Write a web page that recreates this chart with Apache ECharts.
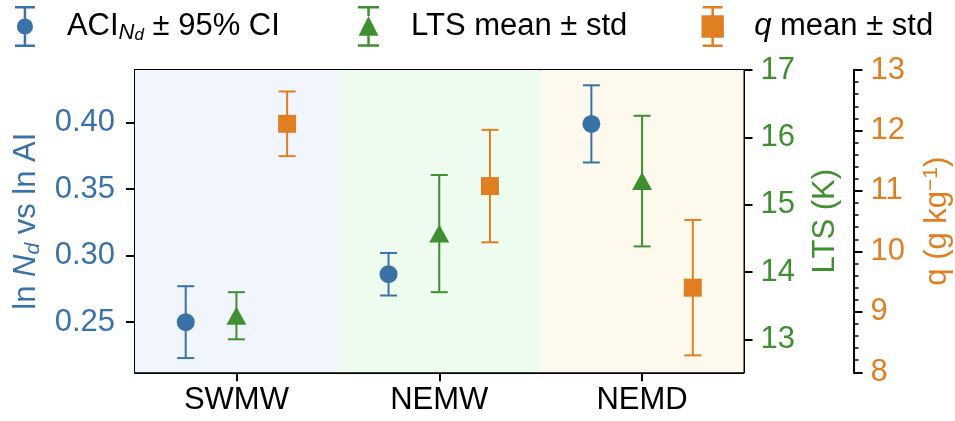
<!DOCTYPE html>
<html>
<head>
<meta charset="utf-8">
<script src="https://cdn.jsdelivr.net/npm/echarts@6/dist/echarts.min.js"></script>
<style>
  html, body { margin: 0; padding: 0; background: #fff; }
  #chart { width: 955px; height: 421px; }
</style>
</head>
<body>
<div id="chart"></div>
<script>
// regions and values
var categories = ['SWMW', 'NEMW', 'NEMD'];
var aciValues = [0.250, 0.286, 0.399];
var aciCI = [0.027, 0.016, 0.029];
var ltsMean = [13.35, 14.57, 15.35];
var ltsStd = [0.35, 0.87, 0.97];
var qMean = [12.11, 11.08, 9.40];
var qStd = [0.535, 0.93, 1.12];

// tick labels
var aciTicks = [0.25, 0.30, 0.35, 0.40];
var ltsTicks = [13, 14, 15, 16, 17];
var qTicks = [8, 9, 10, 11, 12, 13];

var BLUE = '#3a72a8', GREEN = '#3f8f32', ORANGE = '#e07f22';
var bandColors = ['#f0f5fe', '#edfcee', '#fdf9ed'];
var FONT = 'Liberation Sans, Arial, sans-serif';
var FS = 31;
var OFF = 0.25; // side-by-side shift of the three markers

function minorTicks(lo, hi, step) {
  var out = [];
  for (var v = lo; v <= hi + step / 2; v += step) out.push(Math.round(v * 1000) / 1000);
  return out;
}

function rectPath(x0, y0, x1, y1) {
  return 'M' + x0 + ' ' + y0 + 'L' + x1 + ' ' + y0 + 'L' + x1 + ' ' + y1 + 'L' + x0 + ' ' + y1 + 'Z';
}
function circlePath(cx, cy, r) {
  return 'M' + (cx - r) + ' ' + cy + 'A' + r + ' ' + r + ' 0 1 0 ' + (cx + r) + ' ' + cy +
         'A' + r + ' ' + r + ' 0 1 0 ' + (cx - r) + ' ' + cy + 'Z';
}
// legend handles: error bar with the marker on it
var iconAci = 'path://' + rectPath(0, 0, 16, 2) + rectPath(7, 2, 9, 10) + circlePath(8, 16.5, 6.5) +
              rectPath(7, 23, 9, 31) + rectPath(0, 31, 16, 33);
var iconLts = 'path://' + rectPath(0, 0, 17, 2) + rectPath(7.5, 2, 9.5, 8) + 'M8.5 8L16.5 24L0.5 24Z' +
              rectPath(7.5, 24, 9.5, 31) + rectPath(0, 31, 17, 33);
var iconQ = 'path://' + rectPath(1, 0, 17, 2) + rectPath(8, 2, 10, 7.5) + rectPath(0, 7.5, 18, 25.5) +
            rectPath(8, 25.5, 10, 31) + rectPath(1, 31, 17, 33);

function errData(vals, errs, shift) {
  return vals.map(function(v, i) { return [i + shift, v, errs[i]]; });
}
function ptData(vals, shift) {
  return vals.map(function(v, i) { return [i + shift, v]; });
}

function renderErr(params, api) {
  var x = api.value(0), v = api.value(1), e = api.value(2);
  var top = api.coord([x, v + e]);
  var bot = api.coord([x, v - e]);
  var hw = 8.5;
  var st = { stroke: api.visual('color'), lineWidth: 2 };
  return {
    type: 'group',
    children: [
      { type: 'line', shape: { x1: top[0], y1: top[1], x2: bot[0], y2: bot[1] }, style: st },
      { type: 'line', shape: { x1: top[0] - hw, y1: top[1], x2: top[0] + hw, y2: top[1] }, style: st },
      { type: 'line', shape: { x1: bot[0] - hw, y1: bot[1], x2: bot[0] + hw, y2: bot[1] }, style: st }
    ]
  };
}

function majorAxis(o) {
  return {
    type: 'value', position: o.pos, offset: o.offset, min: o.min, max: o.max,
    name: o.name, nameLocation: 'middle', nameRotate: 90, nameGap: o.gap,
    nameTextStyle: { color: o.color, fontSize: FS, fontFamily: FONT, rich: o.rich },
    axisLine: { show: true, onZero: false, lineStyle: { color: '#000', width: 2 } },
    axisTick: { show: true, length: 9, customValues: o.ticks, lineStyle: { color: '#000', width: 2 } },
    axisLabel: { customValues: o.ticks, formatter: o.fmt, color: o.color, fontSize: FS,
                 fontFamily: FONT, margin: o.margin },
    splitLine: { show: false }
  };
}
function minorAxis(o) {
  return {
    type: 'value', position: o.pos, offset: o.offset, min: o.min, max: o.max,
    axisLine: { show: false },
    axisTick: { show: true, length: 5, customValues: o.ticks, lineStyle: { color: '#000', width: 1.5 } },
    axisLabel: { show: false },
    splitLine: { show: false }
  };
}

var aciMin = 0.2123, aciMax = 0.4395;
var ltsMin = 12.51, ltsMax = 17.0;
var qMin = 8, qMax = 13;

var textRich = {
  g1: { width: 27 },
  g2: { width: 25 },
  n: { fontSize: FS, lineHeight: 34, fontFamily: FONT, color: '#000' },
  i: { fontSize: FS, lineHeight: 34, fontFamily: FONT, fontStyle: 'italic', color: '#000' },
  s: { fontSize: 22, lineHeight: 22, fontFamily: FONT, fontStyle: 'italic', verticalAlign: 'bottom', color: '#000' },
  s2: { fontSize: 17, lineHeight: 11, fontFamily: FONT, fontStyle: 'italic', verticalAlign: 'bottom', color: '#000' }
};
var legendNames = {
  'ACI': '{g1| }{n|ACI}{s|N}{s2|d}{n| ± 95% CI}',
  'LTS': '{g1| }{n|LTS mean ± std}',
  'q': '{g2| }{i|q}{n| mean ± std}'
};
// the handle is drawn at about 0.8 of the item box, so the box is enlarged to match
function legendFor(name, icon, left, w) {
  var bw = Math.round(w / 0.8);
  return {
    data: [{ name: name, icon: icon }],
    left: left - (bw - w) / 2, top: 6, padding: 0,
    itemWidth: bw, itemHeight: 41,
    selectedMode: false,
    formatter: function(n) { return legendNames[n]; },
    textStyle: { fontSize: FS, fontFamily: FONT, color: '#000', rich: textRich }
  };
}

var chart = echarts.init(document.getElementById('chart'), null, { renderer: 'canvas' });

chart.setOption({
  animation: false,
  backgroundColor: '#fff',
  grid: { left: 135, right: 211.5, top: 70, bottom: 48.7, outerBoundsMode: 'none' },
  legend: [
    legendFor('ACI', iconAci, 17, 16),
    legendFor('LTS', iconLts, 360, 17),
    legendFor('q', iconQ, 704, 18)
  ],
  xAxis: [{
    type: 'value', min: -0.5, max: 2.5,
    axisLine: { show: true, onZero: false, lineStyle: { color: '#000', width: 2 } },
    axisTick: { show: true, length: 9, customValues: [0, 1, 2], lineStyle: { color: '#000', width: 2 } },
    axisLabel: { customValues: [0, 1, 2], formatter: function(v) { return categories[Math.round(v)]; },
                 color: '#000', fontSize: FS, fontFamily: FONT, margin: 13 },
    splitLine: { show: false }
  }, {
    type: 'value', position: 'top', min: -0.5, max: 2.5,
    axisLine: { show: true, onZero: false, lineStyle: { color: '#000', width: 2 } },
    axisTick: { show: false }, axisLabel: { show: false }, splitLine: { show: false }
  }],
  yAxis: [
    majorAxis({ pos: 'left', offset: 0, min: aciMin, max: aciMax, ticks: aciTicks, color: BLUE, margin: 20,
      fmt: function(v) { return v.toFixed(2); }, gap: 90,
      name: '{t|ln }{i|N}{s|d}{t| vs ln AI}',
      rich: {
        t: { fontSize: FS, lineHeight: 34, color: BLUE, fontFamily: FONT },
        i: { fontSize: FS, lineHeight: 34, color: BLUE, fontFamily: FONT, fontStyle: 'italic' },
        s: { fontSize: 21, lineHeight: 19, color: BLUE, fontFamily: FONT, fontStyle: 'italic', verticalAlign: 'bottom' }
      } }),
    minorAxis({ pos: 'left', offset: 0, min: aciMin, max: aciMax, ticks: minorTicks(0.22, 0.43, 0.01) }),
    majorAxis({ pos: 'right', offset: 0, min: ltsMin, max: ltsMax, ticks: ltsTicks, color: GREEN, margin: 17,
      fmt: function(v) { return String(v); }, gap: 66,
      name: 'LTS (K)', rich: {} }),
    minorAxis({ pos: 'right', offset: 0, min: ltsMin, max: ltsMax, ticks: minorTicks(12.6, 17.0, 0.2) }),
    majorAxis({ pos: 'right', offset: 110, min: qMin, max: qMax, ticks: qTicks, color: ORANGE, margin: 17,
      fmt: function(v) { return String(v); }, gap: 67,
      name: '{t|q (g kg}{p|−1}{t|)}',
      rich: {
        t: { fontSize: FS, lineHeight: 34, color: ORANGE, fontFamily: FONT },
        p: { fontSize: 21, lineHeight: 20, color: ORANGE, fontFamily: FONT, verticalAlign: 'top' }
      } }),
    minorAxis({ pos: 'right', offset: 110, min: qMin, max: qMax, ticks: minorTicks(8, 13, 0.2) })
  ],
  series: [
    {
      name: 'bands', type: 'scatter', xAxisIndex: 0, yAxisIndex: 0, z: 0, data: [],
      silent: true,
      markArea: {
        silent: true,
        data: categories.map(function(c, i) {
          return [{ xAxis: i - 0.5, itemStyle: { color: bandColors[i] } }, { xAxis: i + 0.5 }];
        })
      }
    },
    { name: 'ACI err', type: 'custom', xAxisIndex: 0, yAxisIndex: 0, z: 3, itemStyle: { color: BLUE },
      renderItem: renderErr, encode: { x: 0, y: 1 }, data: errData(aciValues, aciCI, -OFF) },
    { name: 'LTS err', type: 'custom', xAxisIndex: 0, yAxisIndex: 2, z: 3, itemStyle: { color: GREEN },
      renderItem: renderErr, encode: { x: 0, y: 1 }, data: errData(ltsMean, ltsStd, 0) },
    { name: 'q err', type: 'custom', xAxisIndex: 0, yAxisIndex: 4, z: 3, itemStyle: { color: ORANGE },
      renderItem: renderErr, encode: { x: 0, y: 1 }, data: errData(qMean, qStd, OFF) },
    { name: 'ACI', type: 'scatter', xAxisIndex: 0, yAxisIndex: 0, z: 4, symbol: 'circle', symbolSize: 18,
      itemStyle: { color: BLUE, opacity: 1 }, data: ptData(aciValues, -OFF) },
    { name: 'LTS', type: 'scatter', xAxisIndex: 0, yAxisIndex: 2, z: 4, symbol: 'triangle', symbolSize: [20, 18],
      itemStyle: { color: GREEN, opacity: 1 }, data: ptData(ltsMean, 0) },
    { name: 'q', type: 'scatter', xAxisIndex: 0, yAxisIndex: 4, z: 4, symbol: 'rect', symbolSize: 18,
      itemStyle: { color: ORANGE, opacity: 1 }, data: ptData(qMean, OFF) }
  ]
});
</script>
</body>
</html>
